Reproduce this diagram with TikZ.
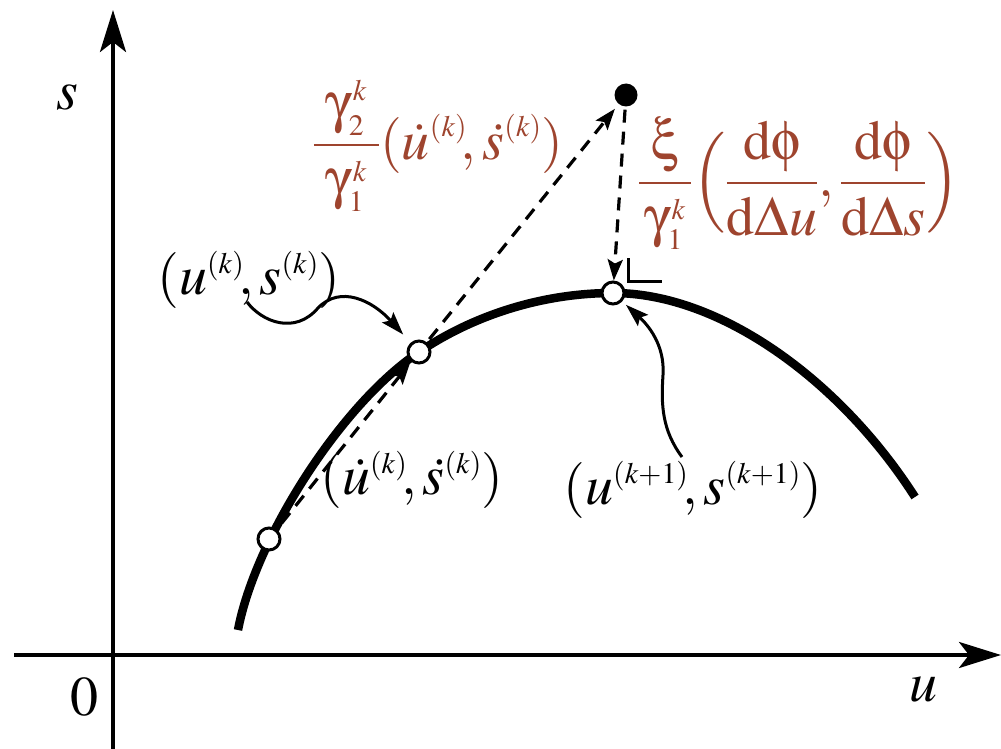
\documentclass[tikz,border=0pt]{standalone}
\usepackage{mathptmx}
\usepackage[Symbol]{upgreek}
\usetikzlibrary{arrows.meta}
\renewcommand\defaultscriptratio{.53}
\renewcommand\defaultscriptscriptratio{.42}
\definecolor{lblred}{RGB}{158,68,46}
\begin{document}
\begin{tikzpicture}[x=1pt,y=-1pt,
  axis/.style={line width=4pt, -{Stealth[length=42pt,width=26pt,inset=10pt]}},
  curvestyle/.style={line width=8.5pt},
  dasharrow/.style={line width=3.2pt, dash pattern=on 13pt off 9pt, -{Stealth[length=21pt,width=15pt,inset=4pt]}},
  pointer/.style={line width=3pt, -{Stealth[length=23pt,width=15pt,inset=4pt]}},
  openpt/.style={circle, draw, line width=3pt, fill=white, minimum size=22pt, inner sep=0pt},
  solidpt/.style={circle, fill=black, minimum size=23pt, inner sep=0pt},
  lbl/.style={inner sep=0pt, font=\fontsize{56}{62}\selectfont},
  redlbl/.style={lbl, text=lblred}]
\useasboundingbox (0,0) rectangle (1001,749);

% axes
\coordinate (ybot) at (113,749);
\coordinate (ytop) at (113,10);
\coordinate (xl) at (14,655);
\coordinate (xr) at (1001,655);
\draw[axis] (ybot) -- (ytop);
\draw[axis] (xl) -- (xr);
\node[lbl] (ls) at (67,97) {$s$};
\node[lbl] (l0) at (84,697) {$0$};
\node[lbl] (lu) at (923,690) {$u$};

% curve
\draw[curvestyle] (238,630) .. controls (255,540) and (340,405) .. (419,352)
  .. controls (480,311) and (550,293) .. (613,293)
  .. controls (720,293) and (840,380) .. (915,497);

% points
\node[openpt] (P0) at (269,539) {};
\node[openpt] (P1) at (419,352) {};
\node[openpt] (P2) at (613,293) {};
\node[solidpt] (Q) at (626,95) {};

% dashed arrows
\draw[dasharrow, shorten <=8pt, shorten >=2pt] (P0) -- (P1);
\draw[dasharrow, shorten <=4pt, shorten >=6pt] (P1) -- (Q);
\draw[dasharrow, shorten <=3pt] (Q) -- (P2);

% right angle mark
\draw[line width=3pt] (628,258) -- (628,281) -- (662,281);

% labels
\node[lbl] (lA) at (249,280) {$(u^{(k)}\!,s^{(k)})$};
\node[lbl] (lB) at (412,480) {$(\dot u^{(k)}\!,\dot s^{(k)})$};
\node[lbl] (lC) at (693,490) {$(u^{(k+1)}\!,s^{(k+1)})$};
\node[redlbl] (lD) at (438,146) {$\displaystyle\frac{\hspace{12pt}\upgamma_2^k\hspace{12pt}}{\upgamma_1^k}(\dot u^{(k)}\!,\dot s^{(k)})$};
\node[redlbl] (lE) at (799,183) {$\displaystyle\frac{\hspace{12pt}\upxi\hspace{12pt}}{\upgamma_1^k}\Bigl(\frac{\hspace{12pt}\mathrm{d}\upphi\hspace{12pt}}{\mathrm{d}\Delta u},\frac{\hspace{12pt}\mathrm{d}\upphi\hspace{12pt}}{\mathrm{d}\Delta s}\Bigr)$};

% pointers
\coordinate (a0) at (247,302);
\draw[pointer, shorten >=11pt] (a0) .. controls (262,322) and (295,335) .. (318,308)
  .. controls (340,285) and (372,300) .. (P1);
\coordinate (b0) at (682,457);
\draw[pointer, shorten >=5pt] (b0) .. controls (662,430) and (661,405) .. (663,375)
  .. controls (665,345) and (648,325) .. (P2);
\end{tikzpicture}
\end{document}
